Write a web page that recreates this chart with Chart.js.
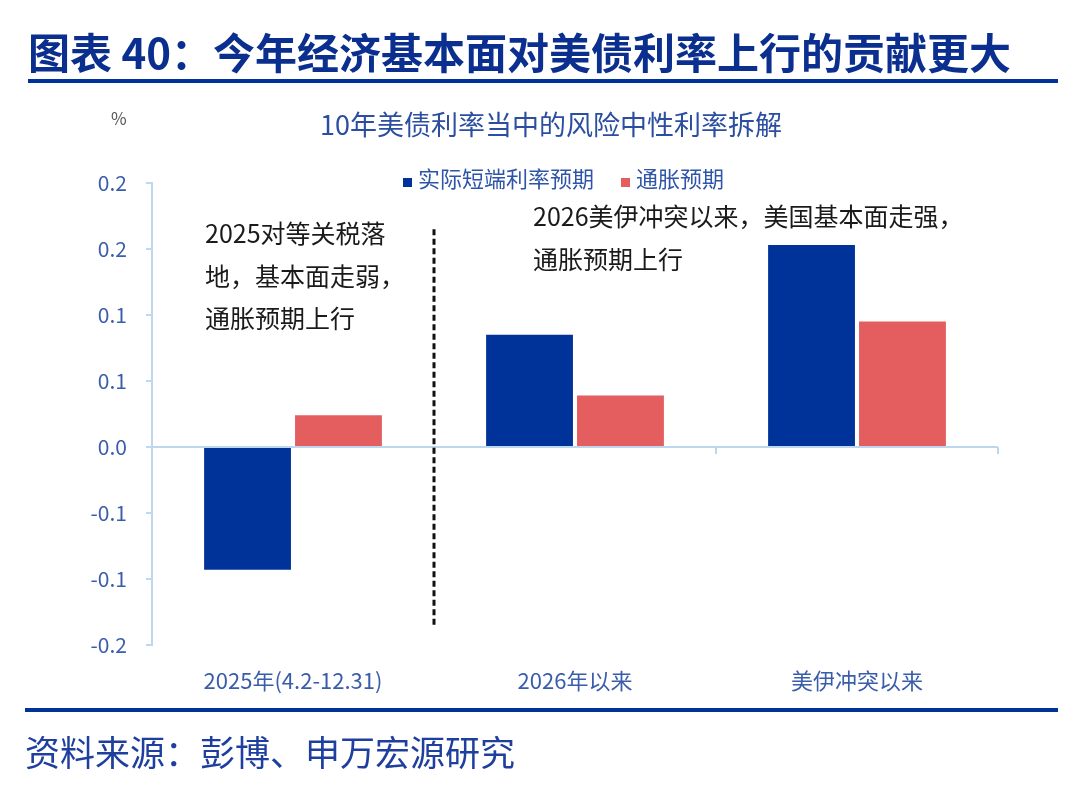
<!DOCTYPE html>
<html>
<head>
<meta charset="utf-8">
<script src="https://cdn.jsdelivr.net/npm/chart.js@4"></script>
<style>
  html, body { margin: 0; padding: 0; background: #fff; }
  body { width: 1080px; height: 786px; position: relative; overflow: hidden;
         font-family: "Noto Sans CJK SC", "Noto Sans", sans-serif; }
  #chart { position: absolute; left: 0; top: 0; }
  .txt { position: absolute; white-space: nowrap; }
  .rule { position: absolute; background: #003399; }
  .legend-item { position: absolute; white-space: nowrap; font-size: 22px; line-height: 22px; color: #2f55a8; }
  .legend-box { display: inline-block; width: 9px; height: 9px; margin-right: 6px; vertical-align: 0px; }
</style>
</head>
<body>
<canvas id="chart" width="1080" height="786"></canvas>

<div class="txt" style="left:28px;top:30px;font-size:42px;line-height:42px;font-weight:bold;color:#0b2f8f;">图表 40：今年经济基本面对美债利率上行的贡献更大</div>
<div class="rule" style="left:28px;top:79px;width:1030px;height:4px;"></div>

<div class="txt" style="left:111px;top:109px;font-size:17px;line-height:17px;color:#555;">%</div>
<div class="txt" style="left:251px;width:600px;text-align:center;top:110px;font-size:27px;line-height:27px;color:#2b4ea0;">10年美债利率当中的风险中性利率拆解</div>
<div id="legend"></div>

<div class="txt" style="left:205px;top:211px;font-size:25px;line-height:42.5px;color:#1a1a1a;">2025对等关税落<br>地，基本面走弱，<br>通胀预期上行</div>
<div class="txt" style="left:533px;top:194px;font-size:25px;line-height:43px;color:#1a1a1a;">2026美伊冲突以来，美国基本面走强，<br>通胀预期上行</div>

<div class="rule" style="left:25px;top:708px;width:1033px;height:4px;"></div>
<div class="txt" style="left:25px;top:733px;font-size:35px;line-height:35px;color:#1f3f9f;">资料来源：彭博、申万宏源研究</div>

<script>
// categories and series
const categories = ["2025年(4.2-12.31)", "2026年以来", "美伊冲突以来"];
const realShortRate = [-0.093, 0.085, 0.153];   // 实际短端利率预期
const inflationExp = [0.024, 0.039, 0.095];     // 通胀预期
const seriesNames = ["实际短端利率预期", "通胀预期"];
const seriesColors = ["#003399", "#E45E5F"];

// y axis ticks (labels as printed, rounded to 1 decimal)
const yTicks = [-0.15, -0.1, -0.05, 0, 0.05, 0.1, 0.15, 0.2];
const yTickLabels = ["-0.2", "-0.1", "-0.1", "0.0", "0.1", "0.1", "0.2", "0.2"];

// dashed divider between first and second category (value range on y)
const dividerRange = [-0.136, 0.165];

const axisColor = "#bdd7ee";
const labelColor = "#3a5dab";
const fontFamily = "'Noto Sans CJK SC', 'Noto Sans', sans-serif";

// html legend
const legendPos = [403, 621];
const legendEl = document.getElementById("legend");
seriesNames.forEach((name, i) => {
  const d = document.createElement("div");
  d.className = "legend-item";
  d.style.left = legendPos[i] + "px";
  d.style.top = "166px";
  d.innerHTML = `<span class="legend-box" style="background:${seriesColors[i]}"></span>${name}`;
  legendEl.appendChild(d);
});

// zero line with category tick marks + dashed divider
const axisDecor = {
  id: "axisDecor",
  beforeDatasetsDraw(chart) {
    const { ctx, chartArea, scales: { x, y } } = chart;
    const y0 = y.getPixelForValue(0);
    ctx.save();
    ctx.strokeStyle = axisColor;
    ctx.lineWidth = 2;
    ctx.beginPath();
    ctx.moveTo(chartArea.left, y0);
    ctx.lineTo(chartArea.right, y0);
    for (let i = 1; i < categories.length; i++) {
      const bx = (x.getPixelForValue(i - 1) + x.getPixelForValue(i)) / 2;
      ctx.moveTo(bx, y0);
      ctx.lineTo(bx, y0 + 7);
    }
    ctx.moveTo(chartArea.right, y0);
    ctx.lineTo(chartArea.right, y0 + 7);
    ctx.stroke();
    ctx.restore();
  },
  afterDatasetsDraw(chart) {
    const { ctx, scales: { x, y } } = chart;
    const bx = (x.getPixelForValue(0) + x.getPixelForValue(1)) / 2;
    ctx.save();
    ctx.strokeStyle = "#111";
    ctx.lineWidth = 3;
    ctx.setLineDash([6, 3.5]);
    ctx.beginPath();
    ctx.moveTo(bx, y.getPixelForValue(dividerRange[1]));
    ctx.lineTo(bx, y.getPixelForValue(dividerRange[0]));
    ctx.stroke();
    ctx.restore();
  }
};

new Chart(document.getElementById("chart").getContext("2d"), {
  type: "bar",
  data: {
    labels: categories,
    datasets: [
      { label: seriesNames[0], data: realShortRate, backgroundColor: seriesColors[0], borderWidth: 0 },
      { label: seriesNames[1], data: inflationExp, backgroundColor: seriesColors[1], borderWidth: 0 }
    ]
  },
  options: {
    responsive: false,
    animation: false,
    categoryPercentage: 0.645,
    barPercentage: 0.955,
    layout: { padding: { top: 183, right: 82, bottom: 81, left: 0 } },
    plugins: { legend: { display: false }, title: { display: false }, tooltip: { enabled: false } },
    scales: {
      x: {
        grid: { display: false, drawTicks: false },
        border: { display: false },
        ticks: { color: labelColor, font: { family: fontFamily, size: 22 }, padding: 22, maxRotation: 0 },
        afterFit: s => { s.height = 60; }
      },
      y: {
        min: -0.15,
        max: 0.2,
        afterBuildTicks: s => { s.ticks = yTicks.map(v => ({ value: v })); },
        grid: { drawOnChartArea: false, drawTicks: true, tickLength: 6, color: axisColor, lineWidth: 2 },
        border: { color: axisColor, width: 2 },
        ticks: {
          color: labelColor,
          font: { family: fontFamily, size: 21 },
          padding: 19,
          callback: (v, i) => yTickLabels[i]
        },
        afterFit: s => { s.width = 152; }
      }
    }
  },
  plugins: [axisDecor]
});
</script>
</body>
</html>
